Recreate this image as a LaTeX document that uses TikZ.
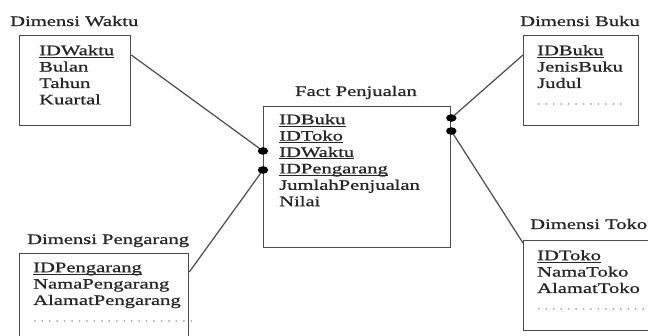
\documentclass[tikz,border=0pt]{standalone}
\usepackage{fontspec}
\setmainfont[FakeStretch=1.42, FakeBold=0.8]{Liberation Serif}
\usetikzlibrary{calc}
\usetikzlibrary{positioning}
% key column: underline just under the baseline
\newcommand{\key}[1]{\setbox0\hbox{#1}\rlap{\rule[-2.2pt]{\wd0}{0.8pt}}\box0}
\newcommand{\more}[1]{\textcolor{black!45}{\fontsize{9}{9}\selectfont #1}}
\tikzset{
  tbl/.style={draw=black!70, line width=1.3pt, anchor=north west, inner sep=0pt},
  ttl/.style={anchor=base west, inner sep=0pt, text=black!85},
  cols/.style={anchor=north west, inner sep=0pt, align=left, text=black!85},
  link/.style={draw=black!70, line width=1.2pt},
  dot/.style={fill=black, draw=none}
}
% first line of a column list starts 11pt above its baseline
\newcommand{\colstrut}{\rule{0pt}{11pt}}

\begin{document}
\begin{tikzpicture}[x=1pt, y=-1pt, font=\fontsize{14.5}{16.4}\selectfont]
\clip (0,0) rectangle (648,336);
\fill[white] (0,0) rectangle (648,336);
% tables
\node[tbl, minimum width=111pt, minimum height=90pt] (waktu) at (19,35) {};
\node[tbl, minimum width=187pt, minimum height=141pt] (fact) at (263,106) {};
\node[tbl, minimum width=115pt, minimum height=90pt] (buku) at (523,35) {};
\node[tbl, minimum width=169pt, minimum height=100pt] (pengarang) at (19,253) {};
\node[tbl, minimum width=140pt, minimum height=90pt] (toko) at (523,240) {};
% titles
\node[ttl] (tWaktu) at (10,26) {Dimensi Waktu};
\node[ttl, anchor=base] (tFact) at (356,96) {Fact Penjualan};
\node[ttl] (tBuku) at (520,26) {Dimensi Buku};
\node[ttl] (tPengarang) at (27,244) {Dimensi Pengarang};
\node[ttl] (tToko) at (530,229) {Dimensi Toko};
% columns
\node[cols] (cWaktu) at (39,44) {\colstrut\key{IDWaktu}\\Bulan\\Tahun\\Kuartal};
\node[cols] (cFact) at (279,113) {\colstrut\key{IDBuku}\\\key{IDToko}\\\key{IDWaktu}\\\key{IDPengarang}\\JumlahPenjualan\\Nilai};
\node[cols] (cBuku) at (537,44) {\colstrut\key{IDBuku}\\JenisBuku\\Judul\\\more{. . . . . . . . . . . .}};
\node[cols] (cPengarang) at (33,261) {\colstrut\key{IDPengarang}\\NamaPengarang\\AlamatPengarang\\\more{. . . . . . . . . . . . . . . . . . . . . .}};
\node[cols] (cToko) at (537,249) {\colstrut\key{IDToko}\\NamaToko\\AlamatToko\\\more{. . . . . . . . . . . . . . .}};
% connectors
\coordinate (fW) at ($(fact.north west)+(0,45)$);
\coordinate (fP) at ($(fact.north west)+(0,64)$);
\coordinate (fB) at ($(fact.north east)+(0,12)$);
\coordinate (fT) at ($(fact.north east)+(0,25)$);
\coordinate (sW) at ($(waktu.north east)+(0,20)$);
\coordinate (sP) at ($(pengarang.north east)+(0,19)$);
\coordinate (sB) at ($(buku.north west)+(0,20)$);
\coordinate (sT) at ($(toko.north west)+(0,3)$);
\draw[link] (sW) -- (fW);
\draw[link] (sP) -- (fP);
\draw[link] (sB) -- (fB);
\draw[link] (sT) -- (fT);
\foreach \p in {fW,fP,fB,fT}
  \fill[dot] (\p) ellipse (5.2pt and 3.8pt);
\end{tikzpicture}
\end{document}
